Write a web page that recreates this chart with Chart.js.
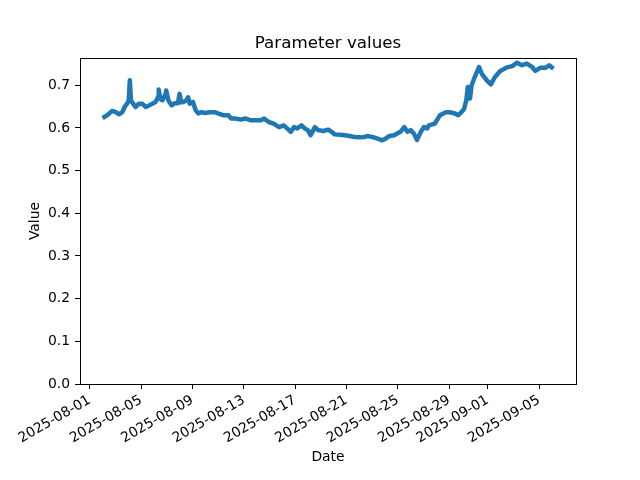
<!DOCTYPE html>
<html>
<head>
<meta charset="utf-8">
<script src="https://cdn.jsdelivr.net/npm/chart.js@4.4.1/dist/chart.umd.min.js"></script>
<style>
  html, body { margin: 0; padding: 0; background: #fff; }
  #wrap { width: 640px; height: 480px; }
</style>
</head>
<body>
<div id="wrap"><canvas id="paramChart" width="640" height="480"></canvas></div>
<script>
// Values, UTC times
const dates = [
  '2025-08-02T00', '2025-08-02T09', '2025-08-02T18', '2025-08-03T01', '2025-08-03T07',
  '2025-08-03T13', '2025-08-03T18', '2025-08-03T22', '2025-08-04T01', '2025-08-04T03',
  '2025-08-04T05', '2025-08-04T09', '2025-08-04T14', '2025-08-04T20', '2025-08-05T02',
  '2025-08-05T09', '2025-08-05T15', '2025-08-05T21', '2025-08-06T03', '2025-08-06T08',
  '2025-08-06T09', '2025-08-06T12', '2025-08-06T16', '2025-08-06T22', '2025-08-06T23',
  '2025-08-07T03', '2025-08-07T09', '2025-08-07T15', '2025-08-07T21', '2025-08-08T00',
  '2025-08-08T03', '2025-08-08T07', '2025-08-08T13', '2025-08-08T16', '2025-08-08T19',
  '2025-08-09T01', '2025-08-09T06', '2025-08-09T11', '2025-08-09T17', '2025-08-09T23',
  '2025-08-10T09', '2025-08-10T18', '2025-08-11T00', '2025-08-11T09', '2025-08-11T19',
  '2025-08-12T01', '2025-08-12T09', '2025-08-12T18', '2025-08-13T04', '2025-08-13T13',
  '2025-08-13T22', '2025-08-14T08', '2025-08-14T14', '2025-08-14T23', '2025-08-15T08',
  '2025-08-15T18', '2025-08-16T03', '2025-08-16T09', '2025-08-16T16', '2025-08-16T22',
  '2025-08-17T04', '2025-08-17T12', '2025-08-17T18', '2025-08-18T00', '2025-08-18T05',
  '2025-08-18T13', '2025-08-18T19', '2025-08-19T05', '2025-08-19T14', '2025-08-19T20',
  '2025-08-20T02', '2025-08-20T12', '2025-08-20T21', '2025-08-21T06', '2025-08-21T15',
  '2025-08-22T01', '2025-08-22T10', '2025-08-22T15', '2025-08-23T00', '2025-08-23T10',
  '2025-08-23T19', '2025-08-24T01', '2025-08-24T08', '2025-08-24T17', '2025-08-24T23',
  '2025-08-25T05', '2025-08-25T12', '2025-08-25T18', '2025-08-26T00', '2025-08-26T06',
  '2025-08-26T12', '2025-08-26T19', '2025-08-27T01', '2025-08-27T07', '2025-08-27T10',
  '2025-08-27T21', '2025-08-28T07', '2025-08-28T13', '2025-08-28T19', '2025-08-29T01',
  '2025-08-29T11', '2025-08-29T17', '2025-08-29T23', '2025-08-30T04', '2025-08-30T08',
  '2025-08-30T11', '2025-08-30T15', '2025-08-30T18', '2025-08-31T00', '2025-08-31T08',
  '2025-08-31T13', '2025-08-31T22', '2025-09-01T06', '2025-09-01T14', '2025-09-01T23',
  '2025-09-02T12', '2025-09-02T22', '2025-09-03T07', '2025-09-03T16', '2025-09-04T01',
  '2025-09-04T11', '2025-09-04T17', '2025-09-05T02', '2025-09-05T12', '2025-09-05T19',
  '2025-09-06T03'
];
const values = [
  0.623, 0.630, 0.640, 0.637, 0.632,
  0.637, 0.651, 0.657, 0.665, 0.712,
  0.665, 0.657, 0.649, 0.657, 0.657,
  0.649, 0.653, 0.657, 0.661, 0.673,
  0.690, 0.668, 0.665, 0.680, 0.688,
  0.665, 0.653, 0.658, 0.658, 0.680,
  0.660, 0.661, 0.665, 0.672, 0.657,
  0.661, 0.642, 0.634, 0.637, 0.635,
  0.637, 0.637, 0.634, 0.630, 0.630,
  0.622, 0.622, 0.620, 0.622, 0.618,
  0.618, 0.618, 0.622, 0.614, 0.610,
  0.602, 0.606, 0.599, 0.591, 0.602,
  0.599, 0.606, 0.599, 0.595, 0.583,
  0.602, 0.595, 0.593, 0.596, 0.591,
  0.585, 0.584, 0.583, 0.581, 0.579,
  0.578, 0.579, 0.581, 0.579, 0.575,
  0.571, 0.575, 0.581, 0.583, 0.587,
  0.591, 0.602, 0.591, 0.595, 0.587,
  0.572, 0.591, 0.602, 0.599, 0.606,
  0.610, 0.630, 0.634, 0.637, 0.637,
  0.634, 0.630, 0.637, 0.645, 0.665,
  0.696, 0.669, 0.700, 0.720, 0.743,
  0.727, 0.712, 0.702, 0.720, 0.733,
  0.742, 0.745, 0.753, 0.747, 0.751,
  0.743, 0.734, 0.741, 0.741, 0.747,
  0.739
];
const xTickLabels = [
  '2025-08-01', '2025-08-05', '2025-08-09', '2025-08-13', '2025-08-17',
  '2025-08-21', '2025-08-25', '2025-08-29', '2025-09-01', '2025-09-05'
];
const yTickValues = [0, 0.1, 0.2, 0.3, 0.4, 0.5, 0.6, 0.7];

const toMs = s => Date.parse(s.length === 13 ? s + ':00:00Z' : s + 'T00:00:00Z');
const points = dates.map((d, i) => ({ x: toMs(d), y: values[i] }));

// matplotlib style 5% margins around the data
const xFirst = points[0].x, xLast = points[points.length - 1].x;
const xPad = (xLast - xFirst) * 0.05;

const FONT = 'DejaVu Sans';

// box around the axes + title centred over the plot
const framePlugin = {
  id: 'frame',
  afterDraw(chart) {
    const { ctx, chartArea: a } = chart;
    ctx.save();
    ctx.strokeStyle = '#000';
    ctx.lineWidth = 1;
    ctx.strokeRect(Math.round(a.left) + 0.5, Math.round(a.top) + 0.5,
      Math.round(a.right - a.left), Math.round(a.bottom - a.top));
    ctx.fillStyle = '#000';
    ctx.font = '16.7px "' + FONT + '"';
    ctx.textAlign = 'center';
    ctx.textBaseline = 'alphabetic';
    ctx.fillText('Parameter values', (a.left + a.right) / 2, a.top - 10);
    ctx.restore();
  }
};

new Chart(document.getElementById('paramChart'), {
  type: 'line',
  data: {
    datasets: [{
      data: points,
      borderColor: '#1f77b4',
      borderWidth: 4.5,
      borderJoinStyle: 'round',
      pointRadius: 0,
      tension: 0,
      fill: false
    }]
  },
  options: {
    responsive: false,
    animation: false,
    layout: { padding: { top: 58, right: 64, left: 0, bottom: 0 } },
    plugins: {
      legend: { display: false },
      tooltip: { enabled: false }
    },
    scales: {
      x: {
        type: 'linear',
        min: xFirst - xPad,
        max: xLast + xPad,
        afterBuildTicks: s => { s.ticks = xTickLabels.map(t => ({ value: toMs(t) })); },
        afterFit: s => { s.height = 96; },
        grid: { drawOnChartArea: false, drawTicks: true, tickLength: 5, tickColor: '#000', tickWidth: 1 },
        border: { display: true, color: '#000', width: 1 },
        ticks: {
          autoSkip: false,
          minRotation: 30,
          maxRotation: 30,
          padding: 3,
          color: '#000',
          font: { family: FONT, size: 13.9 },
          callback: (v, i) => xTickLabels[i]
        },
        title: {
          display: true,
          text: 'Date',
          color: '#000',
          font: { family: FONT, size: 13.9 },
          padding: { top: 0, bottom: 14 }
        }
      },
      y: {
        min: 0,
        max: 0.764,
        afterBuildTicks: s => { s.ticks = yTickValues.map(v => ({ value: v })); },
        afterFit: s => { s.width = 80; },
        grid: { drawOnChartArea: false, drawTicks: true, tickLength: 5, tickColor: '#000', tickWidth: 1 },
        border: { display: true, color: '#000', width: 1 },
        ticks: {
          padding: 5,
          color: '#000',
          font: { family: FONT, size: 13.9 },
          callback: v => v.toFixed(1)
        },
        title: {
          display: true,
          text: 'Value',
          color: '#000',
          font: { family: FONT, size: 13.9 },
          padding: { top: 27, bottom: 0 }
        }
      }
    }
  },
  plugins: [framePlugin]
});
</script>
</body>
</html>
